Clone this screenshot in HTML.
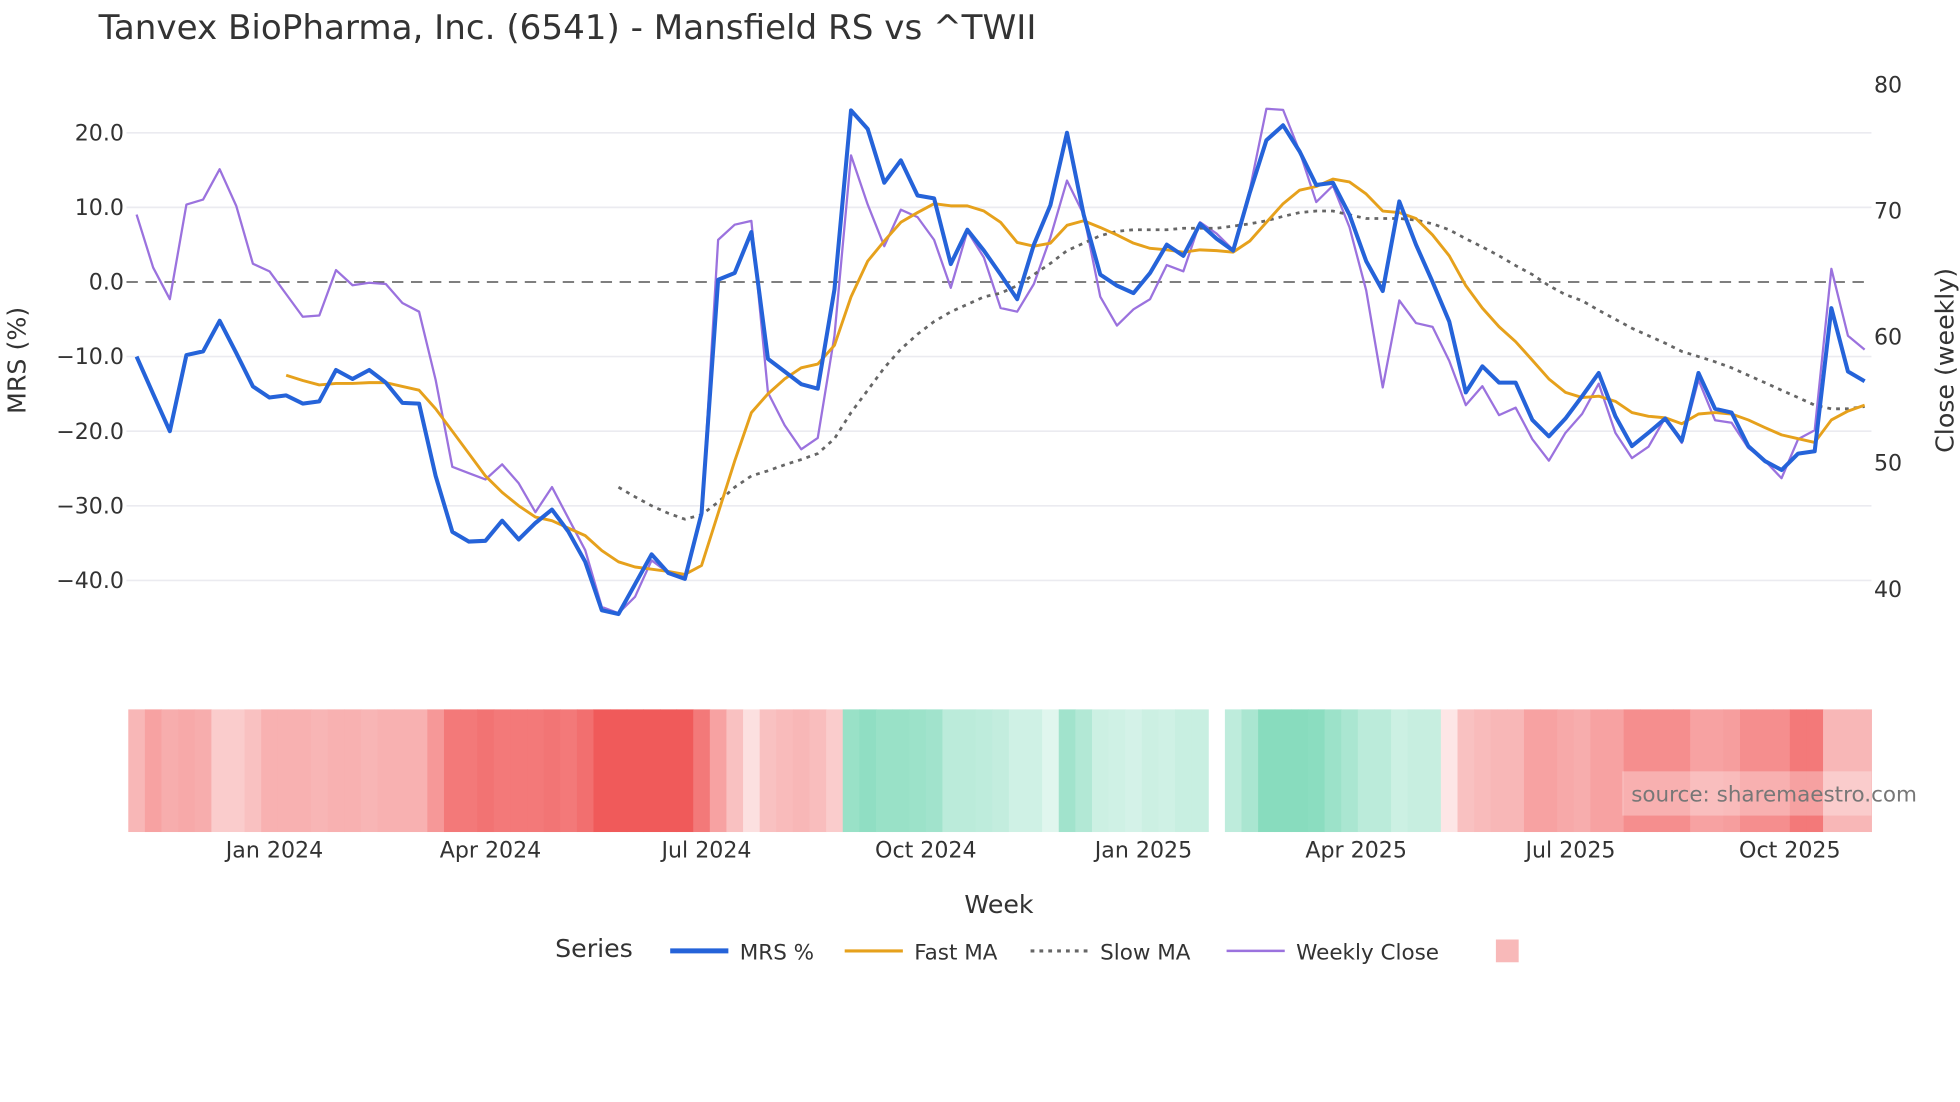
<!DOCTYPE html>
<html><head><meta charset="utf-8"><style>
html,body{margin:0;padding:0;background:#fff;}
svg{display:block;font-family:"DejaVu Sans","Liberation Sans",sans-serif;}
</style></head><body>
<svg id="chart" width="1960" height="1102" viewBox="0 0 1550 871.5" xmlns="http://www.w3.org/2000/svg">
<text x="78" y="31" font-size="27" fill="#333">Tanvex BioPharma, Inc. (6541) - Mansfield RS vs ^TWII</text>
<g id="grid"></g>
<g id="yticks"></g>
<g id="y2ticks"></g>
<text transform="translate(20,285) rotate(-90)" text-anchor="middle" font-size="20" fill="#333">MRS (%)</text>
<text transform="translate(1545,285) rotate(-90)" text-anchor="middle" font-size="20" fill="#333">Close (weekly)</text>
<g id="strip"></g>
<g id="series"></g>
<g id="xticks"></g>
<text x="790" y="722" text-anchor="middle" font-size="20" fill="#333">Week</text>
<rect x="1283" y="610" width="197" height="35" fill="#fff" fill-opacity="0.3"/>
<text x="1290" y="634" font-size="17" fill="#777">source: sharemaestro.com</text>
<g>
<text x="439" y="757" font-size="20" fill="#333">Series</text>
<line x1="530" y1="752" x2="576" y2="752" stroke="#2563d9" stroke-width="4"/>
<text x="585" y="759" font-size="17" fill="#333">MRS %</text>
<line x1="668" y1="752" x2="714" y2="752" stroke="#e6a11c" stroke-width="2.5"/>
<text x="723" y="759" font-size="17" fill="#333">Fast MA</text>
<line x1="815" y1="752" x2="861" y2="752" stroke="#666" stroke-width="2.5" stroke-dasharray="3,4"/>
<text x="870" y="759" font-size="17" fill="#333">Slow MA</text>
<line x1="970" y1="752" x2="1016" y2="752" stroke="#9b72de" stroke-width="2"/>
<text x="1025" y="759" font-size="17" fill="#333">Weekly Close</text>
<rect x="1183" y="743" width="18" height="18" fill="#f8b9b9"/>
</g>
</svg>
<script>
const mrs=[-10,-15,-20,-9.8,-9.3,-5.2,-9.5,-14,-15.5,-15.2,-16.3,-16,-11.8,-13,-11.8,-13.5,-16.2,-16.3,-26,-33.5,-34.8,-34.7,-32,-34.5,-32.3,-30.5,-33.5,-37.5,-44,-44.5,-40.5,-36.5,-39,-39.8,-31,0.3,1.2,6.7,-10.3,-12,-13.7,-14.3,-1,23,20.5,13.3,16.3,11.6,11.2,2.4,7,4.2,1,-2.3,5,10.3,20,9,1,-0.5,-1.5,1.2,5,3.5,7.8,5.8,4.2,12,19,21,17.5,13,13.3,9,2.8,-1.2,10.8,5,0,-5.3,-14.8,-11.3,-13.5,-13.5,-18.5,-20.7,-18.3,-15.3,-12.2,-18,-22,-20.2,-18.3,-21.3,-12.2,-17,-17.5,-22,-24,-25.2,-23,-22.7,-3.5,-12,-13.3];
const closeVals=[69.6,65.4,62.9,70.4,70.8,73.2,70.3,65.7,65.1,63.3,61.5,61.6,65.2,64,64.2,64.1,62.6,61.9,56.5,49.6,49.1,48.6,49.8,48.3,46,48,45.5,43,38.5,38,39.3,42.2,41.2,41,45.7,67.6,68.8,69.1,55.5,52.9,51,51.9,60,74.3,70.4,67.1,70,69.4,67.6,63.8,68.3,66.2,62.2,61.9,64.1,67.8,72.3,69.6,63.1,60.8,62.1,62.9,65.6,65.1,69,68.1,66.8,71.6,78,77.9,74.6,70.6,71.9,68.6,63.6,55.9,62.8,61,60.7,58,54.5,56,53.7,54.3,51.8,50.1,52.3,53.8,56.2,52.3,50.3,51.2,53.5,51.5,56.5,53.3,53.1,51.1,50.1,48.7,51.8,52.5,65.3,60,58.9];
const fastMA=[null,null,null,null,null,null,null,null,null,-12.5,-13.2,-13.8,-13.6,-13.6,-13.5,-13.5,-14,-14.5,-17,-20,-23,-26,-28.2,-30,-31.5,-32,-33,-34,-36,-37.5,-38.2,-38.5,-38.8,-39.2,-38,-31,-24,-17.5,-15,-13,-11.5,-11,-8.5,-2,2.8,5.5,8,9.3,10.5,10.2,10.2,9.5,8,5.3,4.8,5.2,7.6,8.2,7.3,6.3,5.2,4.5,4.3,4,4.3,4.2,4,5.5,8,10.5,12.3,12.8,13.8,13.4,11.8,9.5,9.3,8.5,6.3,3.5,-0.5,-3.5,-6,-8,-10.5,-13,-14.8,-15.5,-15.3,-16,-17.5,-18,-18.2,-19,-17.7,-17.5,-17.7,-18.5,-19.5,-20.5,-21,-21.5,-18.5,-17.3,-16.5];
const slowMA=[null,null,null,null,null,null,null,null,null,null,null,null,null,null,null,null,null,null,null,null,null,null,null,null,null,null,null,null,null,-27.5,-28.8,-30,-31,-31.8,-31.2,-29.5,-27.5,-26,-25.3,-24.5,-23.8,-23,-21,-17.5,-14.5,-11.5,-9,-7,-5.3,-4,-3,-2,-1.5,-0.5,1,2.5,4.2,5.2,6.2,6.8,7,7,7,7.2,7.2,7.2,7.5,7.8,8.2,8.8,9.3,9.5,9.5,9,8.5,8.5,8.5,8.3,7.8,7,5.8,4.7,3.5,2.2,1,-0.5,-1.7,-2.5,-3.8,-5,-6.2,-7.2,-8.2,-9.3,-10,-10.7,-11.5,-12.5,-13.5,-14.5,-15.5,-16.5,-17,-17,-16.7];
const regime=[-0.35,-0.45,-0.4,-0.42,-0.4,-0.25,-0.25,-0.3,-0.38,-0.38,-0.38,-0.36,-0.38,-0.38,-0.36,-0.38,-0.38,-0.38,-0.5,-0.65,-0.65,-0.68,-0.65,-0.65,-0.65,-0.67,-0.65,-0.7,-0.8,-0.8,-0.8,-0.8,-0.8,-0.8,-0.65,-0.45,-0.3,-0.15,-0.3,-0.33,-0.35,-0.32,-0.25,0.6,0.65,0.6,0.6,0.58,0.55,0.4,0.4,0.38,0.35,0.28,0.28,0.18,0.55,0.45,0.3,0.28,0.25,0.3,0.28,0.32,0.32,null,0.38,0.5,0.7,0.7,0.7,0.68,0.58,0.5,0.4,0.4,0.3,0.33,0.33,-0.12,-0.3,-0.33,-0.35,-0.35,-0.45,-0.45,-0.42,-0.4,-0.45,-0.45,-0.55,-0.55,-0.55,-0.55,-0.45,-0.45,-0.47,-0.55,-0.55,-0.55,-0.65,-0.65,-0.35,-0.35,-0.35];
const mrsTicks=[20,10,0,-10,-20,-30,-40];
const mrsTickLabels=["20.0","10.0","0.0","\u221210.0","\u221220.0","\u221230.0","\u221240.0"];
const closeTicks=[80,70,60,50,40];
const xTickLabels=["Jan 2024","Apr 2024","Jul 2024","Oct 2024","Jan 2025","Apr 2025","Jul 2025","Oct 2025"];
const xTickWeeks=[8.3,21.3,34.3,47.5,60.6,73.4,86.3,99.5];

const NS="http://www.w3.org/2000/svg";
const X0=108,DX=13.14;
function xs(i){return X0+i*DX;}
function ym(v){return 223-v*5.9;}
function yc(v){return 66+(80-v)*9.975;}
function mk(tag,attrs,parent){const e=document.createElementNS(NS,tag);for(const k in attrs)e.setAttribute(k,attrs[k]);parent.appendChild(e);return e;}
const grid=document.getElementById('grid'),yt=document.getElementById('yticks'),y2=document.getElementById('y2ticks');
mrsTicks.forEach((t,k)=>{
  const l=mk('line',{x1:100,x2:1480,y1:ym(t),y2:ym(t),stroke:t===0?'#555':'#ebebf0','stroke-width':t===0?1.2:1.3,'stroke-dasharray':t===0?'9,6':'none'},grid);
  
  
  const tx=mk('text',{x:98,y:ym(t)+6,'text-anchor':'end','font-size':17.5,fill:'#333'},yt);
  tx.textContent=mrsTickLabels[k];
  
  
});
closeTicks.forEach(t=>{
  const tx=mk('text',{x:1482,y:yc(t)+7,'font-size':17.5,fill:'#333'},y2);
  tx.textContent=String(t);
  
  
});
const strip=document.getElementById('strip');
regime.forEach((v,i)=>{
  if(v===null)return;
  const a=Math.min(1,Math.abs(v)/0.85);
  const base=v<0?[239,80,80]:[110,212,176];
  const c=base.map(b=>Math.round(255+(b-255)*a));
  const x1=Math.max(100,xs(i)-DX/2),x2=Math.min(1480,xs(i)+DX/2);
  const r=mk('rect',{x:x1,y:561,width:x2-x1+0.4,height:97,fill:`rgb(${c.join(',')})`},strip);
  
  
});
const xt=document.getElementById('xticks');
xTickLabels.forEach((s,k)=>{
  const tx=mk('text',{x:xs(xTickWeeks[k]),y:678,'text-anchor':'middle','font-size':17.5,fill:'#333'},xt);
  tx.textContent=s;
  
  
});
function path(arr,yf){let d='',pen=false;arr.forEach((v,i)=>{if(v===null){pen=false;return;}d+=(pen?'L':'M')+xs(i).toFixed(1)+','+yf(v).toFixed(1);pen=true;});return d;}
const ser=document.getElementById('series');
const pc=mk('path',{d:path(closeVals,yc),fill:'none',stroke:'#9b72de','stroke-width':1.8,'stroke-linejoin':'round'},ser);


const ps=mk('path',{d:path(slowMA,ym),fill:'none',stroke:'#666','stroke-width':2.2,'stroke-dasharray':'3,4'},ser);


const pf=mk('path',{d:path(fastMA,ym),fill:'none',stroke:'#e6a11c','stroke-width':2.3,'stroke-linejoin':'round'},ser);


const pm=mk('path',{d:path(mrs,ym),fill:'none',stroke:'#2563d9','stroke-width':3.2,'stroke-linejoin':'round'},ser);


</script>
</body></html>
